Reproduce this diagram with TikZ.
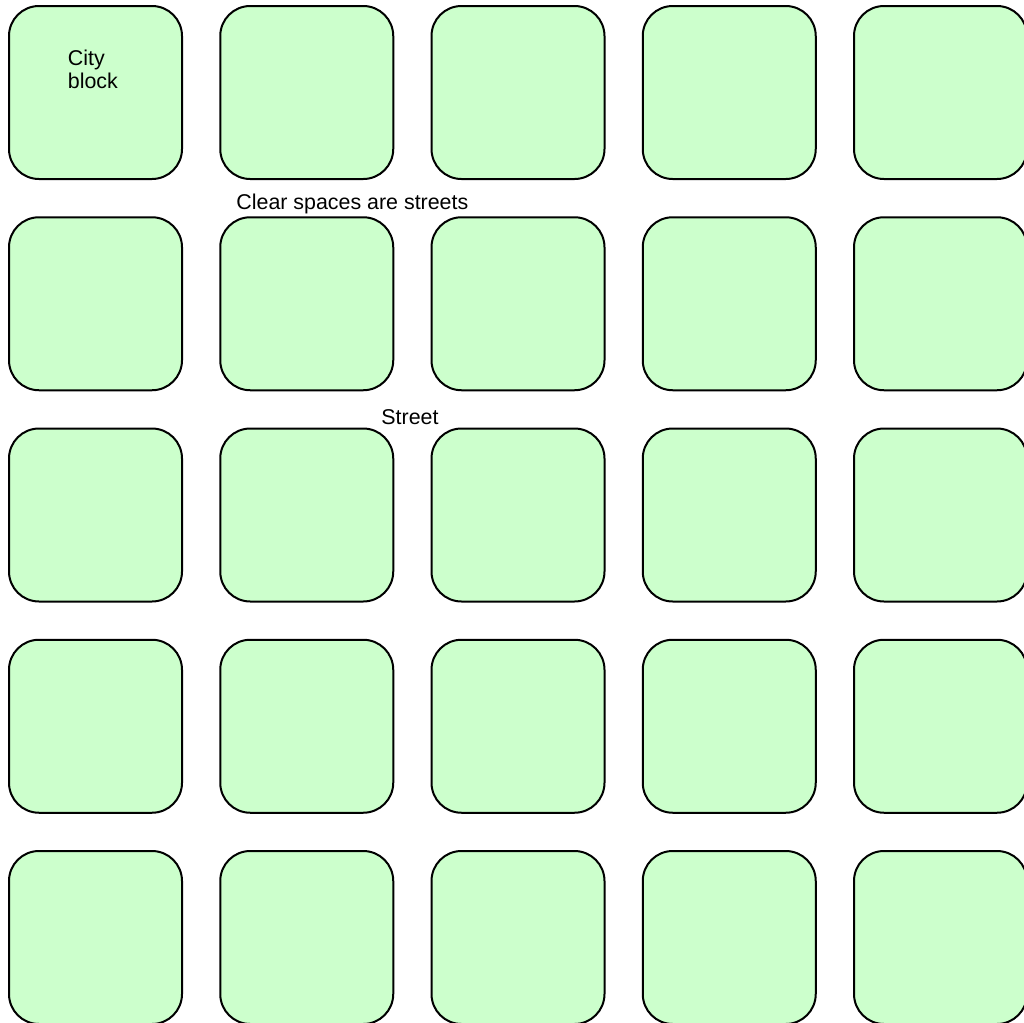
\documentclass[tikz,border=0pt]{standalone}
\usepackage{fontspec}
\setmainfont{Liberation Sans}
\usepackage{xcolor}
\usepackage{tikz}
\usetikzlibrary{positioning}
\definecolor{blk}{HTML}{CCFFCC}
\tikzset{
  block/.style={draw, line width=1pt, fill=blk, rounded corners=15pt, minimum width=86.5pt, minimum height=86.5pt, inner sep=0pt},
  lbl/.style={font=\fontsize{10.7}{11.5}\selectfont, inner sep=0pt, align=left},
}
\begin{document}
\begin{tikzpicture}[x=0.5pt,y=-0.5pt]
  \useasboundingbox (0,0) rectangle (1024,1023);
  \clip (0,0) rectangle (1024,1023);
  % 5 x 5 grid of city blocks
  \foreach \i in {0,...,4} {
    \foreach \j in {0,...,4} {
      \node[block] (b\i\j) at (95.5+211.25*\i, 92.5+211.25*\j) {};
    }
  }
  \node[lbl, anchor=base west] (city) at (67.5,88) {City\\block};
  \node[lbl, anchor=base west] (clear) at (236,209) {Clear spaces are streets};
  \node[lbl, anchor=base west] (street) at (381,424) {Street};
\end{tikzpicture}
\end{document}
